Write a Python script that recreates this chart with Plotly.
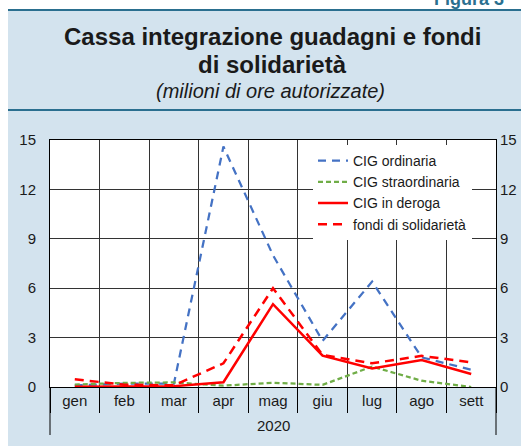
import plotly.graph_objects as go

# ---- data ----
months = ["gen", "feb", "mar", "apr", "mag", "giu", "lug", "ago", "sett"]
year_label = "2020"
cig_ordinaria = [0.10, 0.20, 0.20, 14.6, 8.0, 2.8, 6.4, 1.8, 1.05]
cig_straordinaria = [0.15, 0.25, 0.28, 0.08, 0.26, 0.13, 1.24, 0.38, 0.0]
cig_deroga = [0.02, 0.03, 0.05, 0.29, 5.03, 1.9, 1.12, 1.64, 0.79]
fondi_solidarieta = [0.47, 0.14, 0.10, 1.44, 6.0, 1.95, 1.44, 1.89, 1.5]
y_ticks = [0, 3, 6, 9, 12, 15]

# ---- layout geometry (pixels) ----
W, H = 521, 447
L, R, T, B = 50, 496, 140, 387


def px_x(p):
    return (p - L) / (R - L)


def px_y(p):
    return (B - p) / (B - T)


FONT = "Liberation Sans, Arial, sans-serif"
BG = "#d3e3ee"
TEAL = "#2a6f8f"

fig = go.Figure()
fig.add_trace(go.Scatter(x=months, y=cig_ordinaria, name="CIG ordinaria", mode="lines",
                         line=dict(color="#4472c4", width=2.25, dash="8px,6px")))
fig.add_trace(go.Scatter(x=months, y=cig_straordinaria, name="CIG straordinaria", mode="lines",
                         line=dict(color="#70ad47", width=2.25, dash="5px,3px")))
fig.add_trace(go.Scatter(x=months, y=cig_deroga, name="CIG in deroga", mode="lines",
                         line=dict(color="#ff0000", width=2.5)))
fig.add_trace(go.Scatter(x=months, y=fondi_solidarieta, name="fondi di solidarietà", mode="lines",
                         line=dict(color="#ff0000", width=2.5, dash="9px,6px")))
# invisible trace for right axis labels
fig.add_trace(go.Scatter(x=months, y=cig_ordinaria, yaxis="y2", mode="lines",
                         line=dict(width=0), opacity=0, showlegend=False, hoverinfo="skip"))

shapes = [
    # white margins outside the light-blue panel
    dict(type="rect", xref="paper", yref="paper", x0=px_x(0), x1=px_x(W), y0=px_y(0), y1=px_y(9),
         fillcolor="white", line=dict(width=0), layer="below"),
    dict(type="rect", xref="paper", yref="paper", x0=px_x(0), x1=px_x(8), y0=px_y(0), y1=px_y(H),
         fillcolor="white", line=dict(width=0), layer="below"),
    dict(type="rect", xref="paper", yref="paper", x0=px_x(0), x1=px_x(W), y0=px_y(446), y1=px_y(H),
         fillcolor="white", line=dict(width=0), layer="below"),
    # teal rules
    dict(type="line", xref="paper", yref="paper", x0=px_x(8), x1=px_x(W), y0=px_y(10), y1=px_y(10),
         line=dict(color=TEAL, width=2)),
    dict(type="line", xref="paper", yref="paper", x0=px_x(8), x1=px_x(W), y0=px_y(110), y1=px_y(110),
         line=dict(color=TEAL, width=2)),
    # outer edges of the year group
    dict(type="line", xref="paper", yref="paper", x0=0, x1=0, y0=0, y1=px_y(435),
         line=dict(color="black", width=1)),
    dict(type="line", xref="paper", yref="paper", x0=1, x1=1, y0=0, y1=px_y(435),
         line=dict(color="black", width=1)),
]

annotations = [
    dict(text="Figura 3", xref="paper", yref="paper", x=px_x(432), y=px_y(11), xanchor="left",
         yanchor="bottom", showarrow=False, font=dict(family=FONT, size=18, color=TEAL, weight="bold")),
    dict(text="<b>Cassa integrazione guadagni e fondi</b>", xref="paper", yref="paper", x=px_x(272),
         y=px_y(37), xanchor="center", yanchor="middle", showarrow=False,
         font=dict(family=FONT, size=24, color="#1a1a1a")),
    dict(text="<b>di solidarietà</b>", xref="paper", yref="paper", x=px_x(272),
         y=px_y(64), xanchor="center", yanchor="middle", showarrow=False,
         font=dict(family=FONT, size=24, color="#1a1a1a")),
    dict(text="<i>(milioni di ore autorizzate)</i>", xref="paper", yref="paper", x=px_x(270),
         y=px_y(91), xanchor="center", yanchor="middle", showarrow=False,
         font=dict(family=FONT, size=20, color="#1a1a1a")),
    dict(text=year_label, xref="paper", yref="paper", x=0.5, y=px_y(425), xanchor="center",
         yanchor="middle", showarrow=False, font=dict(family=FONT, size=15, color="#1a1a1a")),
]

fig.update_layout(
    width=W, height=H,
    margin=dict(l=L, r=W - R, t=T, b=H - B, autoexpand=False),
    paper_bgcolor=BG, plot_bgcolor="white",
    font=dict(family=FONT, size=15, color="#1a1a1a"),
    showlegend=True,
    legend=dict(x=px_x(313), y=px_y(145), xanchor="left", yanchor="top", bgcolor="white",
                borderwidth=0, font=dict(family=FONT, size=14, color="#1a1a1a"),
                itemwidth=30, tracegroupgap=0),
    xaxis=dict(type="category", categoryorder="array", categoryarray=months,
               range=[-0.5, len(months) - 0.5], tickson="boundaries", ticks="outside",
               ticklen=25, tickcolor="black", tickwidth=1, ticklabelstandoff=0,
               showgrid=True, gridcolor="#333333", gridwidth=1,
               showline=True, linecolor="black", linewidth=1, mirror=True,
               tickfont=dict(size=15), fixedrange=True),
    yaxis=dict(range=[0, 15], tickvals=y_ticks, showgrid=True, gridcolor="#333333", gridwidth=1,
               showline=True, linecolor="black", linewidth=1, mirror=True, ticks="",
               ticklabelstandoff=10, zeroline=False, tickfont=dict(size=15), fixedrange=True),
    yaxis2=dict(range=[0, 15], tickvals=y_ticks, overlaying="y", side="right", showgrid=False,
                showline=False, ticks="", ticklabelstandoff=3, zeroline=False,
                tickfont=dict(size=15), fixedrange=True),
    shapes=shapes,
    annotations=annotations,
)

fig.write_html("out.html", config={"displayModeBar": False},
               post_script="document.body.style.margin='0';")
